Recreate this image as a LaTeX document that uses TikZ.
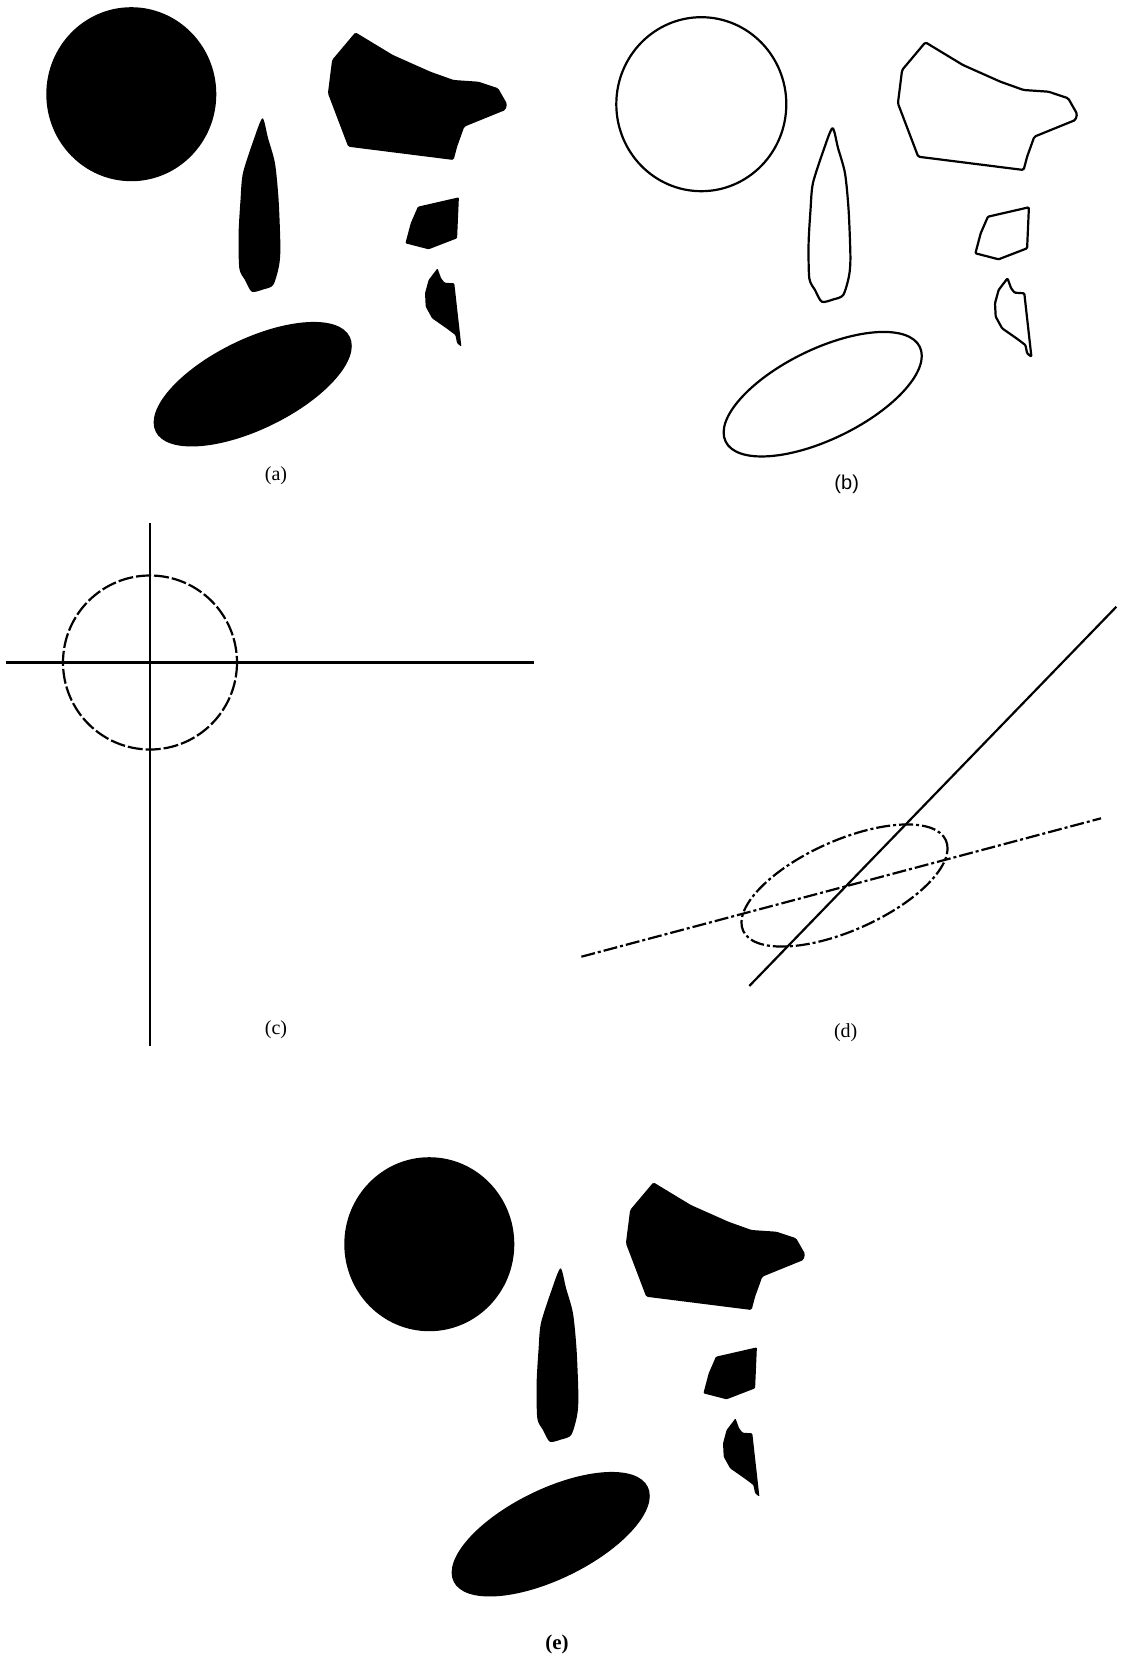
\documentclass[tikz,border=0pt]{standalone}
\usepackage{fontspec}
\setmainfont{Liberation Serif}
\setsansfont{Liberation Sans}

% the six pieces of the scene, drawn with whatever style is passed
\newcommand{\sceneparts}[1]{%
  \path[#1] (131.3,94.2) ellipse [x radius=85, y radius=87];
  \path[#1, rounded corners=1.5pt] (355.4,32.3) -- (332.1,60) -- (327.9,93.3) -- (348.2,146.7)
    -- (453.6,160) -- (457.1,146.7) -- (464.3,126.7) -- (505.4,110) -- (507.1,104)
    -- (498.2,88.3) -- (478.6,81.7) -- (453.6,80) -- (430.4,71.7) -- (392.9,55) -- cycle;
  \path[#1] plot[smooth cycle, tension=0.45] coordinates {(262.5,118.3) (268,138) (275,163.3)
    (278.6,200) (280.4,246.7) (279,266) (273.2,285) (263,289.5) (251.8,291.7) (245,280)
    (239.3,268.3) (238.6,233.3) (240.5,200) (242.9,173.3) (253.6,140)};
  \path[#1, rounded corners=1pt] (417.9,206.7) -- (458.9,197.3) -- (457.1,238.3) -- (428.6,249.3)
    -- (405.4,243.3) -- (410.7,223.3) -- cycle;
  \path[#1, rounded corners=1pt] (437.5,268.3) -- (441.1,278.3) -- (444.6,282.7) -- (454.3,283.3)
    -- (461.4,346.7) -- (457.1,343.3) -- (455.4,335) -- (446.4,328.3) -- (432.1,318.3)
    -- (425.7,306.7) -- (425,293.3) -- (428.6,280) -- cycle;
  \path[#1] (252.7,384.2) ellipse [x radius=108, y radius=45, rotate=26];
}

\begin{document}
\begin{tikzpicture}[x=1pt, y=-1pt]
  % styles
  \tikzset{
    solid part/.style={fill=black},
    rim/.style={draw=black, line width=2.2pt, line join=round},
    axis/.style={draw=black, line width=2.4pt},
    broken/.style={draw=black, line width=2.2pt, dash pattern=on 15pt off 3pt},
    dashdot/.style={draw=black, line width=2.2pt, dash pattern=on 14pt off 3pt on 3pt off 3pt},
    caption/.style={font=\fontsize{20}{24}\selectfont, inner sep=0pt}
  }

  % page
  \fill[white] (0,0) rectangle (1123,1659);

  % (a) the filled scene
  \sceneparts{solid part}

  % (b) its edges
  \begin{scope}[shift={(570,10)}]
    \sceneparts{rim}
  \end{scope}

  % (c) coordinates of the circle's cross
  \coordinate (cO) at (150,662.5);    % centre
  \coordinate (cTop) at (150,523);
  \coordinate (cBot) at (150,1046);
  \coordinate (cLeft) at (6,662.5);
  \coordinate (cRight) at (534,662.5);
  \draw[broken] (cO) circle [radius=87];
  \draw[axis] (cTop) -- (cBot);
  \draw[axis] (cLeft) -- (cRight);

  % (d) coordinates of the ellipse's lines
  \coordinate (dO) at (844.5,885.5);  % centre
  \coordinate (dLow) at (581.4,956.7);
  \coordinate (dHigh) at (1101,818.3);
  \coordinate (dFoot) at (749.3,986);
  \coordinate (dTip) at (1116.4,606.7);
  \draw[dashdot] (dO) ellipse [x radius=111, y radius=45, rotate=24];
  \draw[dashdot] (dLow) -- (dHigh);
  \draw[axis, line width=2.2pt] (dFoot) -- (dTip);

  % (e) the rebuilt scene
  \begin{scope}[shift={(298,1150)}]
    \sceneparts{solid part}
  \end{scope}

  % captions
  \node[caption] (capA) at (276,476) {(a)};
  \node[caption, font=\fontsize{20}{24}\selectfont\sffamily] (capB) at (846.7,484) {(b)};
  \node[caption] (capC) at (276,1030) {(c)};
  \node[caption] (capD) at (845.7,1033) {(d)};
  \node[caption, font=\fontsize{21}{25}\selectfont\bfseries] (capE) at (557,1644) {(e)};
\end{tikzpicture}
\end{document}
